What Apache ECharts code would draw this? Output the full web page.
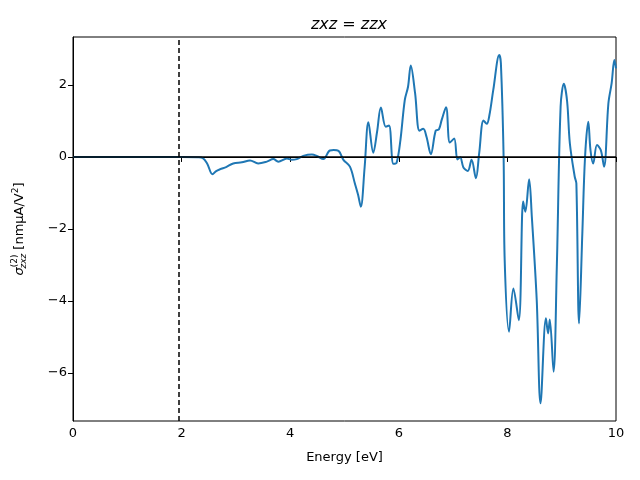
<!DOCTYPE html>
<html>
<head>
<meta charset="utf-8">
<script src="https://cdn.jsdelivr.net/npm/echarts@6/dist/echarts.min.js"></script>
<style>html,body{margin:0;padding:0;background:#fff}#c{width:640px;height:480px}</style>
</head>
<body>
<div id="c"></div>
<script>
const energy = [0, 1.0, 2.0, 2.3, 2.39, 2.47, 2.57, 2.63, 2.71, 2.82, 2.95, 3.11, 3.26, 3.41, 3.57, 3.69, 3.78, 3.94, 4.03, 4.12, 4.24, 4.40, 4.50, 4.61, 4.73, 4.80, 4.89, 4.98, 5.10, 5.19, 5.25, 5.30, 5.37, 5.44, 5.53, 5.60, 5.67, 5.76, 5.82, 5.90, 5.96, 6.03, 6.11, 6.17, 6.22, 6.30, 6.38, 6.45, 6.51, 6.59, 6.68, 6.74, 6.79, 6.87, 6.94, 7.02, 7.08, 7.13, 7.19, 7.27, 7.34, 7.42, 7.48, 7.56, 7.62, 7.67, 7.74, 7.85, 7.88, 7.93, 7.95, 8.03, 8.11, 8.21, 8.29, 8.33, 8.40, 8.45, 8.54, 8.61, 8.71, 8.75, 8.78, 8.85, 8.91, 8.98, 9.04, 9.10, 9.15, 9.24, 9.27, 9.32, 9.38, 9.43, 9.49, 9.53, 9.58, 9.65, 9.72, 9.78, 9.86, 9.92, 9.97, 10.0];
const sigma = [0, 0, 0, -0.01, -0.03, -0.18, -0.48, -0.40, -0.34, -0.28, -0.18, -0.15, -0.10, -0.18, -0.13, -0.06, -0.13, -0.04, -0.08, -0.06, 0.03, 0.07, 0.02, -0.06, 0.18, 0.19, 0.17, -0.08, -0.27, -0.73, -1.05, -1.38, -0.30, 0.96, 0.12, 0.70, 1.37, 0.84, 0.87, -0.19, -0.16, 0.47, 1.58, 1.95, 2.54, 1.77, 0.73, 0.78, 0.56, 0.08, 0.73, 0.77, 1.03, 1.38, 0.40, 0.51, -0.07, -0.01, -0.29, -0.39, -0.08, -0.59, 0.10, 1.01, 0.92, 1.17, 1.86, 2.83, 2.60, 0.0, -2.86, -4.85, -3.65, -4.53, -1.24, -1.52, -0.62, -1.66, -3.97, -6.84, -4.48, -4.90, -4.51, -5.96, -3.05, 1.40, 2.03, 1.54, 0.38, -0.55, -0.73, -4.62, -2.12, 0.0, 0.98, 0.19, -0.18, 0.33, 0.19, -0.27, 1.49, 2.05, 2.69, 2.46];
const xTicks = [0, 2, 4, 6, 8, 10];
const yTicks = [-6, -4, -2, 0, 2];
const vlineX = 1.95;

const chart = echarts.init(document.getElementById('c'));
const font = 'DejaVu Sans';
chart.setOption({
  animation: false,
  backgroundColor: '#fff',
  title: {
    text: 'zxz = zzx',
    left: 344, top: 12, textAlign: 'center',
    textStyle: {fontFamily: font, fontStyle: 'italic', fontWeight: 'normal', fontSize: 16, color: '#000'}
  },
  grid: {left: 73, right: 24, top: 37, bottom: 59, show: true, borderColor: '#000', borderWidth: 1},
  xAxis: {
    type: 'value', min: 0, max: 10, interval: 2,
    name: 'Energy [eV]', nameLocation: 'middle', nameGap: 30,
    nameTextStyle: {fontFamily: font, fontSize: 13, color: '#000'},
    axisLine: {show: true, lineStyle: {color: '#000', width: 1}},
    axisTick: {show: true, inside: false, length: 5, lineStyle: {color: '#000'}},
    axisLabel: {fontFamily: font, fontSize: 13, color: '#000', margin: 6},
    splitLine: {show: false}
  },
  yAxis: {
    type: 'value', min: -7.33, max: 3.33,
    name: '{s|σ}{sup|(2)}{sub|zxz} [nmμA/V{sup2|2}]',
    nameLocation: 'middle', nameRotate: 90, nameGap: 44,
    nameTextStyle: {
      fontFamily: font, fontSize: 13, color: '#000',
      rich: {
        s: {fontFamily: font, fontSize: 13, fontStyle: 'italic', color: '#000'},
        sup: {fontFamily: font, fontSize: 9, color: '#000', padding: [0, 0, 10, 0]},
        sub: {fontFamily: font, fontSize: 9, fontStyle: 'italic', color: '#000', padding: [8, 0, 0, -14]},
        sup2: {fontFamily: font, fontSize: 9, color: '#000', padding: [0, 0, 8, 0]}
      }
    },
    axisLine: {show: true, lineStyle: {color: '#000', width: 1}},
    axisTick: {show: true, inside: false, length: 5, lineStyle: {color: '#000'}, customValues: yTicks},
    axisLabel: {fontFamily: font, fontSize: 13, color: '#000', margin: 6, customValues: yTicks,
      formatter: v => (v < 0 ? '\u2212' + Math.abs(v) : String(v))},
    splitLine: {show: false}
  },
  series: [{
    type: 'line',
    data: energy.map((e, i) => [e, sigma[i]]),
    smooth: 0.35,
    showSymbol: false,
    lineStyle: {color: '#1f77b4', width: 2},
    z: 3,
    markLine: {
      silent: true, symbol: 'none', label: {show: false},
      data: [
        {yAxis: 0, lineStyle: {color: '#000', width: 1.5, type: 'solid'}},
        {xAxis: vlineX, lineStyle: {color: '#000', width: 1.5, type: [5, 3]}}
      ]
    }
  }]
});
</script>
</body>
</html>
